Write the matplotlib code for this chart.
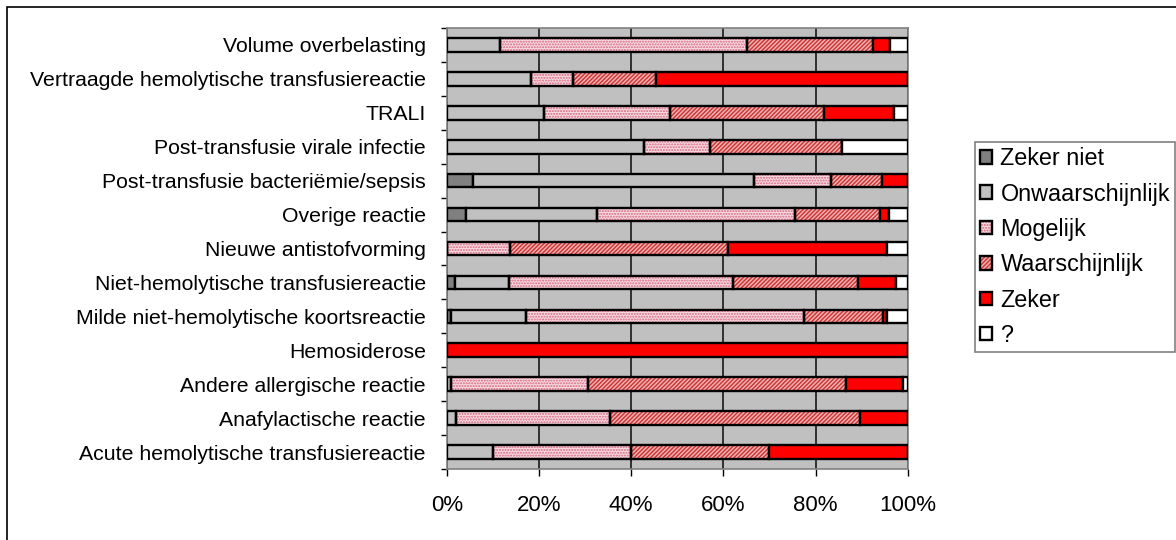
import matplotlib.pyplot as plt
import numpy as np
from matplotlib.patches import Patch, Rectangle
from matplotlib.legend_handler import HandlerTuple

plt.rcParams['font.family'] = ['Liberation Sans', 'DejaVu Sans']
plt.rcParams['hatch.linewidth'] = 1.0

#-----------------------------------------------------------------------------#
# data (percentages per reaction type, top row first)

categories = [
    'Volume overbelasting',
    'Vertraagde hemolytische transfusiereactie',
    'TRALI',
    'Post-transfusie virale infectie',
    'Post-transfusie bacteriëmie/sepsis',
    'Overige reactie',
    'Nieuwe antistofvorming',
    'Niet-hemolytische transfusiereactie',
    'Milde niet-hemolytische koortsreactie',
    'Hemosiderose',
    'Andere allergische reactie',
    'Anafylactische reactie',
    'Acute hemolytische transfusiereactie',
]

zeker_niet = [0.0, 0.0, 0.0, 0.0, 5.6, 4.1, 0.0, 1.8, 1.0, 0.0, 0.0, 0.0, 0.0]
onwaarschijnlijk = [11.6, 18.2, 21.2, 42.9, 61.1, 28.6, 0.0, 11.7, 16.3, 0.0, 1.0, 2.0, 10.0]
mogelijk = [53.6, 9.1, 27.3, 14.3, 16.7, 42.8, 13.8, 48.6, 60.1, 0.0, 29.7, 33.4, 30.0]
waarschijnlijk = [27.2, 18.1, 33.3, 28.6, 11.1, 18.4, 47.2, 27.1, 17.3, 0.0, 56.0, 54.2, 30.0]
zeker = [3.7, 54.6, 15.2, 0.0, 5.5, 2.0, 34.6, 8.2, 0.8, 100.0, 12.3, 10.4, 30.0]
onbekend = [3.9, 0.0, 3.0, 14.2, 0.0, 4.1, 4.4, 2.6, 4.5, 0.0, 1.0, 0.0, 0.0]

series_names = ['Zeker niet', 'Onwaarschijnlijk', 'Mogelijk',
                'Waarschijnlijk', 'Zeker', '?']
x_ticks = [0, 20, 40, 60, 80, 100]

# (facecolor, hatch, hatch colour) per series
styles = [
    ('#808080', None, None),
    ('#C0C0C0', None, None),
    ('#F6DCE2', '......', '#D8647C'),
    ('#F0B0B0', '////////', '#CC3333'),
    ('#FF0000', None, None),
    ('#FFFFFF', None, None),
]

#-----------------------------------------------------------------------------#
# plot

fig = plt.figure(figsize=(11.76, 5.4), dpi=100)
fig.patches.append(Rectangle((7 / 1176, -0.1), 1.2, 1 - 7 / 540 + 0.1,
                             transform=fig.transFigure, fill=False,
                             edgecolor='black', linewidth=1.2))

ax = fig.add_axes([446.7 / 1176, 71 / 540, 461 / 1176, 441 / 540])
ax.set_facecolor('#C0C0C0')

series = [zeker_niet, onwaarschijnlijk, mogelijk, waarschijnlijk, zeker, onbekend]
y = np.arange(len(categories))[::-1]
left = np.zeros(len(categories))
bar_h = 0.4
for values, (fc, hatch, hc) in zip(series, styles):
    values = np.array(values)
    if hatch:
        ax.barh(y, values, left=left, height=bar_h, color=fc, hatch=hatch,
                edgecolor=hc, linewidth=0, zorder=3)
        ax.barh(y, values, left=left, height=bar_h, fill=False,
                edgecolor='black', linewidth=1.7, zorder=4)
    else:
        ax.barh(y, values, left=left, height=bar_h, color=fc,
                edgecolor='black', linewidth=1.7, zorder=4)
    left += values

ax.set_xlim(0, 100)
ax.set_ylim(-0.5, len(categories) - 0.5)
ax.set_xticks(x_ticks)
ax.set_xticklabels(['%d%%' % t for t in x_ticks], fontsize=16)
ax.set_yticks(y)
ax.set_yticklabels(categories, fontsize=15.3)
ax.set_yticks(np.arange(len(categories) + 1) - 0.5, minor=True)
ax.tick_params(axis='y', which='major', length=0, pad=15)
ax.tick_params(axis='y', which='minor', length=4, width=1)
ax.tick_params(axis='x', length=5, width=1, pad=14)
ax.xaxis.grid(True, color='#303030', linewidth=1.4, zorder=1)
ax.set_axisbelow(True)
for side in ax.spines:
    ax.spines[side].set_color('#808080')
    ax.spines[side].set_linewidth(1.2)

# legend, hatch drawn in its own colour under a black outline
handles = []
for fc, hatch, hc in styles:
    if hatch:
        handles.append((Patch(facecolor=fc, hatch=hatch, edgecolor=hc, linewidth=0),
                        Patch(fill=False, edgecolor='black', linewidth=1.7)))
    else:
        handles.append(Patch(facecolor=fc, edgecolor='black', linewidth=1.7))

leg = fig.legend(handles, series_names, loc='upper left',
                 bbox_to_anchor=(975 / 1176, 1 - 142 / 540),
                 fontsize=16.8, frameon=True, fancybox=False,
                 handlelength=0.52, handleheight=0.52, handletextpad=0.35,
                 labelspacing=0.53, borderpad=0.22, borderaxespad=0,
                 handler_map={tuple: HandlerTuple(ndivide=1)})
leg.get_frame().set_edgecolor('#606060')
leg.get_frame().set_linewidth(1.2)

fig.savefig('out.png', dpi=100)
